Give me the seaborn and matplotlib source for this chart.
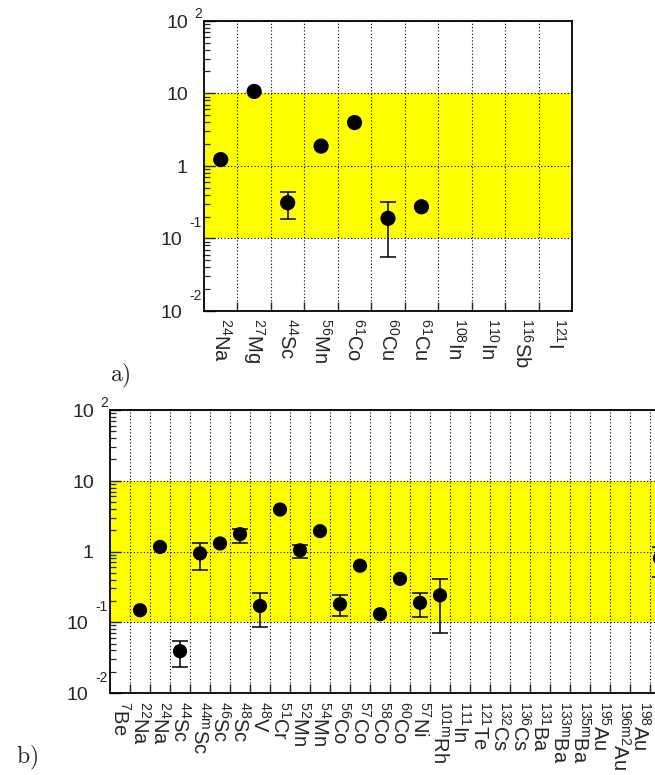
import numpy as np
import pandas as pd
import matplotlib
matplotlib.use("Agg")
import matplotlib.pyplot as plt
import seaborn as sns
from matplotlib import transforms, ticker

nan = np.nan

# ---- panel a) data ----
iso_a = ['24', '27', '44', '56', '61', '60', '61', '108', '110', '116', '121']
el_a = ['Na', 'Mg', 'Sc', 'Mn', 'Co', 'Cu', 'Cu', 'In', 'In', 'Sb', 'I']
val_a = [1.22, 10.6, 0.31, 1.87, 3.95, 0.189, 0.273, nan, nan, nan, nan]
lo_a = [nan, nan, 0.185, nan, nan, 0.055, nan, nan, nan, nan, nan]
hi_a = [nan, nan, 0.44, nan, nan, 0.32, nan, nan, nan, nan, nan]

# ---- panel b) data ----
iso_b = ['7', '22', '24', '44', '44m', '46', '48', '48', '51', '52', '54', '56', '57', '58',
         '60', '57', '101m', '111', '121', '132', '136', '131', '133m', '135m', '195',
         '196m2', '198', '203']
el_b = ['Be', 'Na', 'Na', 'Sc', 'Sc', 'Sc', 'Sc', 'V', 'Cr', 'Mn', 'Mn', 'Co', 'Co', 'Co',
        'Co', 'Ni', 'Rh', 'In', 'Te', 'Cs', 'Cs', 'Ba', 'Ba', 'Ba', 'Au', 'Au', 'Au', 'Pb']
val_b = [nan, 0.148, 1.16, 0.039, 0.94, 1.30, 1.76, 0.17, 3.92, 1.04, 1.94, 0.18, 0.63, 0.13,
         0.41, 0.188, 0.24, nan, nan, nan, nan, nan, nan, nan, nan, nan, nan, 0.80]
lo_b = [nan, nan, nan, 0.0234, 0.544, nan, 1.34, 0.086, nan, 0.81, nan, 0.123, nan, nan,
        nan, 0.117, 0.071, nan, nan, nan, nan, nan, nan, nan, nan, nan, nan, 0.44]
hi_b = [nan, nan, nan, 0.0545, 1.30, nan, 2.1, 0.26, nan, 1.25, nan, 0.24, nan, nan,
        nan, 0.26, 0.41, nan, nan, nan, nan, nan, nan, nan, nan, nan, nan, 1.16]

sns.set_style("white")
plt.rcParams['font.family'] = ['Liberation Sans', 'DejaVu Sans']
plt.rcParams['mathtext.fontset'] = 'custom'
plt.rcParams['mathtext.rm'] = 'Liberation Sans'
plt.rcParams['mathtext.it'] = 'Liberation Sans:italic'
plt.rcParams['mathtext.bf'] = 'Liberation Sans:bold'
plt.rcParams['mathtext.default'] = 'regular'

fig = plt.figure(figsize=(6.55, 7.75), dpi=100)
ax1 = fig.add_axes([204 / 655, 1 - 311 / 775, 368 / 655, 290.3 / 775])
ax2 = fig.add_axes([110 / 655, 1 - 693 / 775, 560 / 655, 283 / 775])


def ylabels(ax):
    tr = ax.get_yaxis_transform()
    specs = [(1e2, '10', '2', -16, 8), (1e1, '10', None, -16, 0), (1.0, '1', None, -17, 0),
             (1e-1, '10', '-1', -22, 16), (1e-2, '10', '-2', -22, 16)]
    for y, base, exp, dx, up in specs:
        t = tr + transforms.ScaledTranslation(dx / 100, -6.8 / 100, fig.dpi_scale_trans)
        ax.text(0, y, base, transform=t, ha='right', va='baseline', fontsize=14)
        if exp:
            t2 = tr + transforms.ScaledTranslation(-2 / 100, (up - 4.8) / 100, fig.dpi_scale_trans)
            ax.text(0, y, exp, transform=t2, ha='right', va='baseline', fontsize=10)


def panel(ax, iso, el, val, lo, hi, msize, lpad):
    n = len(el)
    x = np.arange(n) + 0.5
    val = np.array(val, dtype=float)
    lo = np.array(lo, dtype=float)
    hi = np.array(hi, dtype=float)
    ax.set_yscale('log')
    ax.set_ylim(1e-2, 1e2)
    ax.set_xlim(0, n)
    ax.axhspan(0.1, 10, color='#ffff00', lw=0, zorder=0.2)
    df = pd.DataFrame({'x': x, 'y': val}).dropna()
    sns.scatterplot(data=df, x='x', y='y', ax=ax, s=msize, color='black',
                    edgecolor='none', linewidth=0, zorder=4, legend=False)
    m = ~np.isnan(lo)
    ax.errorbar(x[m], val[m], yerr=[val[m] - lo[m], hi[m] - val[m]], fmt='none',
                ecolor='black', elinewidth=1.1, capsize=5.8, capthick=1.1, zorder=3)
    ax.set_xlabel('')
    ax.set_ylabel('')
    # x axis: labels at bin centres, ticks/grid at bin edges
    ax.set_xticks(x)
    ax.set_xticklabels([f'$^{{{i}}}$' + e for i, e in zip(iso, el)], rotation=-90,
                       fontsize=14.5, ha='center', va='top')
    ax.set_xticks(np.arange(1, n), minor=True)
    ax.tick_params(axis='x', which='major', length=0, pad=lpad)
    ax.tick_params(axis='x', which='minor', direction='in', length=6.5, width=1.0,
                   bottom=True, top=False)
    # y axis
    ax.yaxis.set_major_locator(ticker.LogLocator(base=10, numticks=10))
    ax.yaxis.set_minor_locator(ticker.LogLocator(base=10, subs=np.arange(2, 10), numticks=20))
    ax.tick_params(axis='y', which='major', direction='in', length=8, width=1.0,
                   left=True, right=False, labelleft=False)
    ax.tick_params(axis='y', which='minor', direction='in', length=4.5, width=0.9,
                   left=True, right=False)
    ax.yaxis.set_minor_formatter(ticker.NullFormatter())
    ax.set_axisbelow(True)
    ax.grid(False)
    ax.grid(True, which='minor', axis='x', color='black', linestyle=(0, (1, 2)), lw=0.8)
    ax.grid(True, which='major', axis='y', color='black', linestyle=(0, (1, 2)), lw=0.8)
    for s in ax.spines.values():
        s.set_color('black')
        s.set_linewidth(1.3)
    ylabels(ax)


panel(ax1, iso_a, el_a, val_a, lo_a, hi_a, 120, 5)
panel(ax2, iso_b, el_b, val_b, lo_b, hi_b, 105, 6)

fig.text(120.5 / 655, 1 - 376 / 775, r'$\mathrm{a)}$', math_fontfamily='cm', fontsize=17,
         ha='center', va='center')
fig.text(26.5 / 655, 1 - 757.5 / 775, r'$\mathrm{b)}$', math_fontfamily='cm', fontsize=17,
         ha='center', va='center')

fig.savefig('out.png', dpi=100)
